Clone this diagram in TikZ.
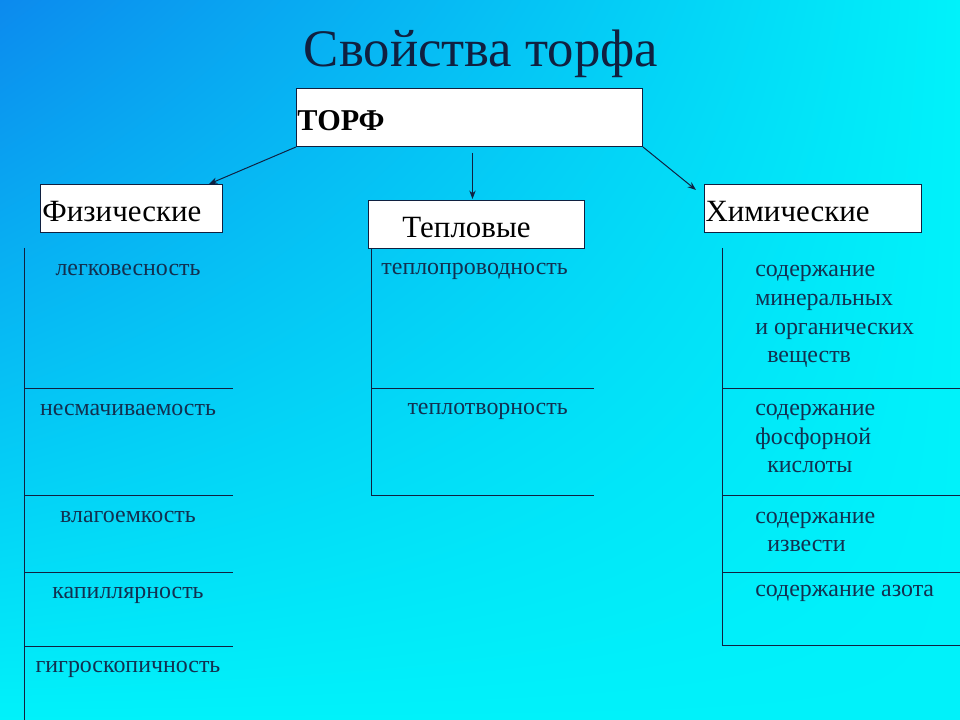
\documentclass[tikz,border=0pt]{standalone}
\usepackage{fontspec}
\setmainfont{Liberation Serif}
\usetikzlibrary{calc,shadings,arrows.meta}

\newlength\pxu
\setlength\pxu{0.025cm}
\definecolor{bgblue}{RGB}{12,138,238}
\definecolor{bgcyan}{RGB}{0,242,250}
\definecolor{ink}{RGB}{16,32,64}
\definecolor{itemink}{RGB}{18,48,80}

\begin{document}
\begin{tikzpicture}[x=0.025cm, y=-0.025cm, >={Stealth[length=6pt,width=4.5pt]},
    headbox/.style={draw=ink, fill=white, line width=0.7pt, anchor=north west, align=left,
        text height=18pt, text depth=0pt, inner ysep=0pt, font=\fontsize{22}{24}\selectfont},
    propitem/.style={text=itemink, inner sep=0pt, font=\fontsize{17}{20.5}\selectfont},
    tablerule/.style={draw=ink, line width=0.6pt},
    link/.style={->, draw=ink, line width=0.7pt}]

    % фон
    \useasboundingbox (0,0) rectangle (960,720);
    \shade[upper left=bgblue, upper right=bgcyan, lower left=bgcyan, lower right=bgcyan]
    (0,0) rectangle (960,720);

    % заголовок
    \node[text=ink, font=\fontsize{37.5}{40}\selectfont, anchor=base] (title) at (481,67) {Свойства торфа};

    % блоки
    \node[headbox, minimum width=346\pxu, minimum height=58\pxu, text width=344\pxu, inner xsep=1\pxu,
        font=\fontsize{21.5}{24}\selectfont\bfseries] (torf) at (296,88) {ТОРФ};
    \node[headbox, minimum width=182\pxu, minimum height=48\pxu, text width=178\pxu, inner xsep=2\pxu]
    (fiz) at (40,184) {Физические};
    \node[headbox, minimum width=216\pxu, minimum height=48\pxu, text width=148\pxu, inner xsep=34\pxu]
    (tepl) at (368,200) {Тепловые};
    \node[headbox, minimum width=217\pxu, minimum height=48\pxu, text width=215\pxu, inner xsep=1\pxu]
    (him) at (704,184) {Химические};

    % стрелки
    \draw[link] (torf.south west) -- ([xshift=-14\pxu]fiz.north east);
    \draw[link] ([xshift=3\pxu, yshift=-6\pxu]torf.south) -- ([xshift=-4\pxu, yshift=1\pxu]tepl.north);
    \draw[link] (torf.south east) -- ([xshift=-8\pxu, yshift=-6\pxu]him.north west);

    % линии таблиц
    \draw[tablerule] (24,248) -- (24,720);
    \foreach \y in {388,495,572,646}
    \draw[tablerule] (24,\y) -- (233,\y);
    \draw[tablerule] (371,248) -- (371,495);
    \foreach \y in {388,495}
    \draw[tablerule] (371,\y) -- (594,\y);
    \draw[tablerule] (722,248) -- (722,645);
    \foreach \y in {388,495,572,645}
    \draw[tablerule] (722,\y) -- (960,\y);

    % физические свойства
    \foreach \yb/\txt [count=\i] in {276/легковесность, 416/несмачиваемость, 523/влагоемкость,
        598/капиллярность, 672/гигроскопичность}
    \node[propitem, anchor=base] (fiz\i) at (128,\yb) {\txt};

    % тепловые свойства
    \node[propitem, anchor=base east] (tepl1) at (568,275) {теплопроводность};
    \node[propitem, anchor=base east] (tepl2) at (568,415) {теплотворность};

    % химические свойства (base = последняя строка)
    \node[propitem, align=left, anchor=base west] (him1) at (755,363)
    {содержание\\минеральных\\и органических\\\hspace*{12\pxu}веществ};
    \node[propitem, align=left, anchor=base west] (him2) at (755,473)
    {содержание\\фосфорной\\\hspace*{12\pxu}кислоты};
    \node[propitem, align=left, anchor=base west] (him3) at (755,552)
    {содержание\\\hspace*{12\pxu}извести};
    \node[propitem, anchor=base west] (him4) at (755,597) {содержание азота};

\end{tikzpicture}
\end{document}
